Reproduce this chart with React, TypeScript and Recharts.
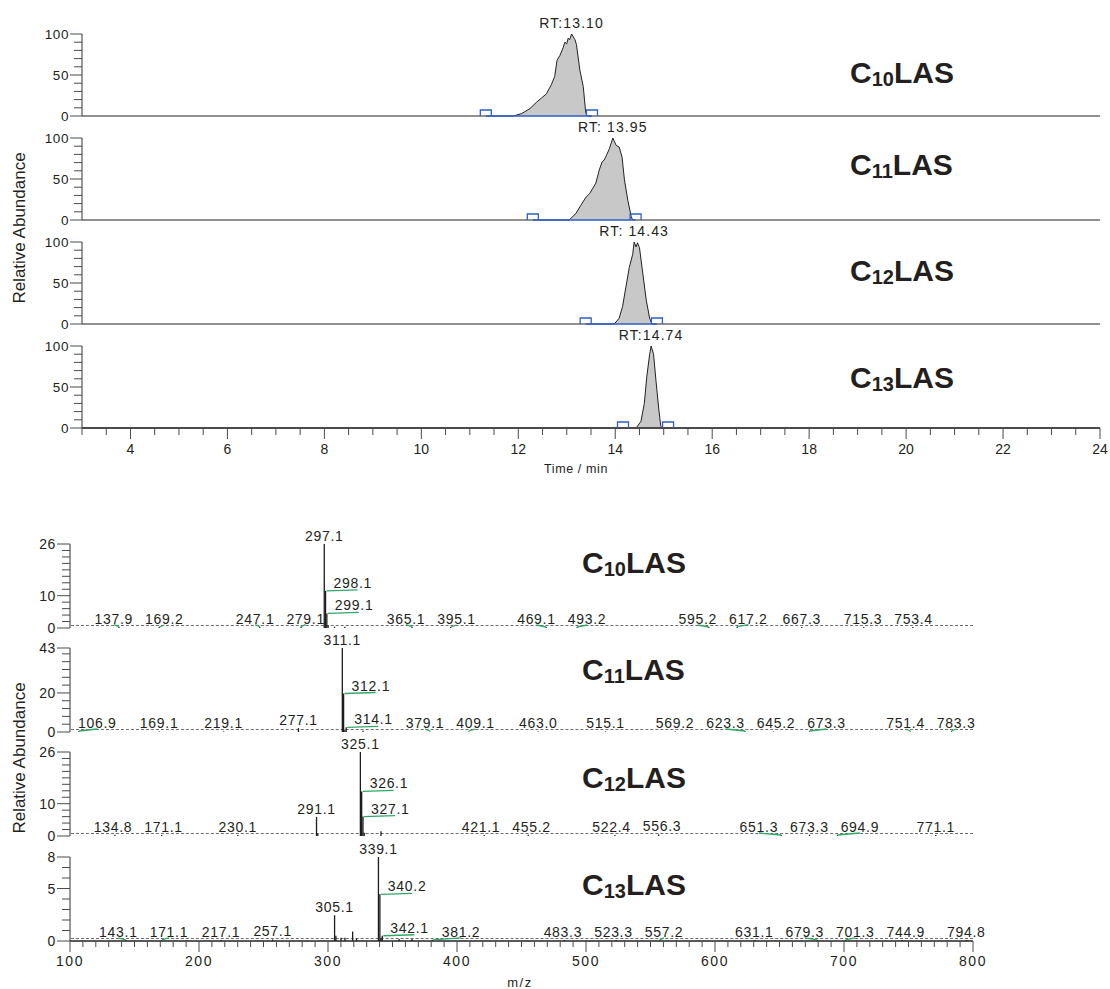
import React from 'react'
import { ComposedChart, Area, Line, Scatter, XAxis, YAxis } from 'recharts'

const FONT = '"Liberation Sans", Arial, Helvetica, sans-serif'
const INK = '#231f20'
const AXIS = '#4a4a4a'
const GREEN = '#2fa866'
const BLUE = '#2d5fc4'

// ---- chromatograms (time in min, relative abundance in %) ----
const c10Time = [3, 11.9, 12.07, 12.24, 12.38, 12.48, 12.58, 12.68, 12.75, 12.8, 12.86, 12.93, 12.96, 13.0, 13.03, 13.06, 13.1, 13.17, 13.2, 13.27, 13.34, 13.39, 13.42, 24]
const c10Abund = [0, 0, 3, 9, 17, 22, 27, 38, 48, 68, 74, 84, 90, 88, 95, 93, 100, 93, 87, 56, 36, 5, 0, 0]
const c10Edges = [11.33, 13.52]

const c11Time = [3, 13.05, 13.19, 13.29, 13.4, 13.47, 13.53, 13.6, 13.67, 13.73, 13.77, 13.82, 13.88, 13.95, 14.02, 14.08, 14.14, 14.19, 14.26, 14.33, 14.36, 24]
const c11Abund = [0, 0, 8, 18, 28, 32, 38, 45, 61, 71, 73, 79, 87, 100, 91, 89, 77, 49, 24, 4, 0, 0]
const c11Edges = [12.3, 14.42]

const c12Time = [3, 13.98, 14.08, 14.15, 14.22, 14.29, 14.36, 14.39, 14.43, 14.46, 14.5, 14.57, 14.64, 14.71, 14.76, 24]
const c12Abund = [0, 0, 7, 21, 45, 69, 85, 100, 94, 99, 93, 61, 29, 7, 0, 0]
const c12Edges = [13.39, 14.86]

const c13Time = [3, 14.43, 14.53, 14.6, 14.65, 14.71, 14.74, 14.79, 14.84, 14.9, 14.94, 14.98, 24]
const c13Abund = [0, 0, 8, 30, 62, 90, 100, 90, 58, 22, 2, 0, 0]
const c13Edges = [14.16, 15.09]

const rtLabels = ['RT:13.10', 'RT: 13.95', 'RT: 14.43', 'RT:14.74']
const chainLabels = ['10', '11', '12', '13']

const timeLabelTicks = [4, 6, 8, 10, 12, 14, 16, 18, 20, 22, 24]
const timeTicks = Array.from({ length: 43 }, (_, i) => 3 + i * 0.5)
const abundTicks = [0, 10, 20, 30, 40, 50, 60, 70, 80, 90, 100]
const abundLabelTicks = [0, 50, 100]

// ---- mass spectra (m/z, intensity) ----
const s10Mz = [137.9, 169.2, 247.1, 279.1, 297.1, 298.1, 299.1, 365.1, 395.1, 469.1, 493.2, 595.2, 617.2, 667.3, 715.3, 753.4]
const s10Int = [0.4, 0.3, 0.4, 0.4, 26, 11.5, 4.5, 0.4, 0.3, 0.3, 0.3, 0.3, 0.4, 0.3, 0.3, 0.3]
const s10MinorMz = [300.1, 305.1, 313.1]
const s10MinorInt = [0.8, 0.4, 0.4]

const s11Mz = [106.9, 169.1, 219.1, 277.1, 311.1, 312.1, 314.1, 379.1, 409.1, 463.0, 515.1, 569.2, 623.3, 645.2, 673.3, 751.4, 783.3]
const s11Int = [0.4, 0.3, 0.3, 2, 43, 19.7, 2.4, 0.3, 0.3, 0.3, 0.3, 0.3, 0.4, 0.3, 0.3, 0.3, 0.3]
const s11MinorMz = [313.1, 327.1]
const s11MinorInt = [1.2, 0.6]

const s12Mz = [134.8, 171.1, 230.1, 291.1, 325.1, 326.1, 327.1, 421.1, 455.2, 522.4, 556.3, 651.3, 673.3, 694.9, 771.1]
const s12Int = [0.4, 0.3, 0.3, 5.9, 26, 13.8, 6.0, 0.3, 0.4, 0.3, 0.5, 0.3, 0.4, 0.3, 0.3]
const s12MinorMz = [292.1, 328.1, 341.1]
const s12MinorInt = [0.8, 1.0, 1.5]

const s13Mz = [143.1, 171.1, 217.1, 257.1, 305.1, 339.1, 340.2, 342.1, 381.2, 483.3, 523.3, 557.2, 631.1, 679.3, 701.3, 744.9, 794.8]
const s13Int = [0.1, 0.1, 0.1, 0.15, 2.45, 8, 4.45, 0.5, 0.1, 0.1, 0.1, 0.1, 0.1, 0.1, 0.1, 0.1, 0.1]
const s13MinorMz = [306.1, 310.1, 313.1, 319.1, 322.1, 341.1, 355.1, 365.1]
const s13MinorInt = [0.5, 0.3, 0.3, 0.9, 0.25, 0.3, 0.2, 0.2]

const s10Ticks = [0, 2, 4, 6, 8, 10, 12, 14, 16, 18, 20, 22, 24, 26]
const s10TickLabels = [0, 10, 26]
const s11Ticks = [0, 4, 8, 12, 16, 20, 24, 28, 32, 36, 40, 43]
const s11TickLabels = [0, 20, 43]
const s12Ticks = [0, 2, 4, 6, 8, 10, 12, 14, 16, 18, 20, 22, 24, 26]
const s12TickLabels = [0, 10, 26]
const s13Ticks = [0, 1, 2, 3, 4, 5, 6, 7, 8]
const s13TickLabels = [0, 5, 8]

const mzLabelTicks = [100, 200, 300, 400, 500, 600, 700, 800]
const mzTicks = Array.from({ length: 71 }, (_, i) => 100 + i * 10)

const CHROM_H = 82
const SPEC_H = 84
const TOP_PAD = 20
const BOT_PAD = 10
const SPEC_LEFT = 70
const SPEC_RIGHT = 973
const LABEL_FS = 14
const LABEL_LS = 0.7

const makeYTick = (labels: number[], major: number, minor: number, fs: number) => (props: any) => {
  const { x, y, payload } = props
  const isMajor = labels.includes(payload.value)
  return (
    <g>
      <line x1={x - (isMajor ? major : minor)} x2={x} y1={y} y2={y} stroke={AXIS} strokeWidth={1} />
      {isMajor && (
        <text x={x - major - 1} y={y + 5} textAnchor="end" fontSize={fs} letterSpacing={0.6} fill={INK} fontFamily={FONT}>
          {payload.value}
        </text>
      )}
    </g>
  )
}

const makeXTick = (labels: number[], major: number, minor: number, fs: number, gap: number, ls: number) => (props: any) => {
  const { x, y, payload } = props
  const isMajor = labels.includes(payload.value)
  return (
    <g>
      <line x1={x} x2={x} y1={y} y2={y + (isMajor ? major : minor)} stroke={AXIS} strokeWidth={1} />
      {isMajor && (
        <text x={x} y={y + gap} textAnchor="middle" fontSize={fs} letterSpacing={ls} fill={INK} fontFamily={FONT}>
          {payload.value}
        </text>
      )}
    </g>
  )
}

const bracketShape = (props: any) => {
  const { cx, cy } = props
  return <path d={`M${cx - 5.5},${cy} L${cx - 5.5},${cy - 6} L${cx + 5.5},${cy - 6} L${cx + 5.5},${cy}`} fill="none" stroke={BLUE} strokeWidth={1.3} />
}

function Chromatogram(props: { time: number[]; abund: number[]; edges: number[]; rt: string; top: number; showAxis?: boolean }) {
  const { time, abund, edges, rt, top, showAxis } = props
  const rows = time.map((t, i) => ({ t, v: abund[i] }))
  const edgeRows = edges.map((t) => ({ t, v: 0 }))
  const apex = rows.reduce((a, b) => (b.v > a.v ? b : a))
  const axisH = showAxis ? 40 : 0
  const bottom = showAxis ? 0 : BOT_PAD
  const rtShape = (p: any) => (
    <text x={p.cx} y={p.cy - 6} textAnchor="middle" fontSize={14} letterSpacing={1.1} fill={INK} fontFamily={FONT}>
      {rt}
    </text>
  )
  return (
    <div style={{ position: 'absolute', left: 0, top: top - TOP_PAD }}>
      <ComposedChart width={1110} height={TOP_PAD + CHROM_H + axisH + bottom} data={rows} margin={{ top: TOP_PAD, right: 10, bottom, left: 0 }}>
        <XAxis
          dataKey="t"
          type="number"
          domain={[3, 24]}
          ticks={timeTicks}
          interval={0}
          height={axisH}
          tickSize={0}
          tickMargin={0}
          tickLine={false}
          tick={showAxis ? makeXTick(timeLabelTicks, 11, 7, 14, 26, 0) : false}
          axisLine={{ stroke: '#4a4a4a', strokeWidth: 2 }}
        />
        <YAxis
          dataKey="v"
          type="number"
          domain={[0, 100]}
          ticks={abundTicks}
          interval={0}
          width={82}
          tickSize={0}
          tickMargin={0}
          tickLine={false}
          tick={makeYTick(abundLabelTicks, 12, 8, 13.5)}
          axisLine={{ stroke: '#333', strokeWidth: 1 }}
        />
        <Area dataKey="v" type="linear" stroke="#222" strokeWidth={1} fill="#c8c8c8" fillOpacity={1} isAnimationActive={false} />
        <Line data={edgeRows} dataKey="v" stroke={BLUE} strokeWidth={1.5} dot={false} isAnimationActive={false} />
        <Scatter data={edgeRows} dataKey="v" shape={bracketShape} isAnimationActive={false} />
        <Scatter data={[apex]} dataKey="v" shape={rtShape} isAnimationActive={false} />
      </ComposedChart>
    </div>
  )
}

// approximate rendered width of a peak label
const labelWidth = (s: string) => {
  let w = 0
  for (const ch of s) w += (ch === '.' ? 0.278 : 0.556) * LABEL_FS
  return w + s.length * LABEL_LS
}

function Spectrum(props: {
  mz: number[]
  int: number[]
  minorMz: number[]
  minorInt: number[]
  yMax: number
  yTicks: number[]
  yLabels: number[]
  top: number
  showAxis?: boolean
}) {
  const { mz, int, minorMz, minorInt, yMax, yTicks, yLabels, top, showAxis } = props
  const px = (m: number) => SPEC_LEFT + ((m - 100) / 700) * (SPEC_RIGHT - SPEC_LEFT)
  const labelled = mz.map((m, i) => {
    const side = mz.some((o, j) => int[j] > int[i] && m - o > 0 && m - o <= 4)
    const label = m.toFixed(1)
    return { mz: m, int: int[i], label, side, lx: px(m), w: labelWidth(label) }
  })

  // labels sitting on the baseline row are pushed apart so they do not collide
  const row = labelled
    .filter((l) => (l.int / yMax) * SPEC_H < 14)
    .map((l) => ({ ref: l, left: l.side ? px(l.mz) + 9 : px(l.mz) - l.w / 2, fixed: l.side }))
    .sort((a, b) => a.left - b.left)
  const GAP = 12
  for (let it = 0; it < 80; it++) {
    for (let i = 1; i < row.length; i++) {
      const a = row[i - 1]
      const b = row[i]
      const ov = a.left + a.ref.w + GAP - b.left
      if (ov > 0) {
        if (a.fixed) b.left += ov
        else if (b.fixed) a.left -= ov
        else {
          a.left -= ov / 2
          b.left += ov / 2
        }
      }
    }
    if (row.length) {
      const f = row[0]
      if (!f.fixed && f.left < 78) f.left = 78
      const l = row[row.length - 1]
      if (!l.fixed && l.left + l.ref.w > 992) l.left = 992 - l.ref.w
    }
  }
  row.forEach((r) => {
    if (!r.fixed) r.ref.lx = r.left + r.ref.w / 2
  })

  const rows = [...labelled, ...minorMz.map((m, i) => ({ mz: m, int: minorInt[i], label: '', side: false, lx: px(m), w: 0 }))]
  const baseY = TOP_PAD + SPEC_H
  const axisH = showAxis ? 40 : 0
  const bottom = showAxis ? 0 : BOT_PAD
  const stick = (p: any) => {
    const { cx, cy, payload } = p
    const tip = Math.min(cy, baseY - 1)
    const shifted = Math.abs(payload.lx - px(payload.mz)) > 4
    const lx = cx + (payload.lx - px(payload.mz))
    return (
      <g>
        <line x1={cx} x2={cx} y1={cy} y2={baseY} stroke="#1c1c1c" strokeWidth={1.3} />
        {payload.label && payload.side && (
          <g>
            <line x1={cx + 1} y1={cy} x2={cx + 32} y2={cy - 1} stroke={GREEN} strokeWidth={1.3} />
            <text x={cx + 8} y={cy - 3} fontSize={LABEL_FS} letterSpacing={LABEL_LS} fill={INK} fontFamily={FONT}>
              {payload.label}
            </text>
          </g>
        )}
        {payload.label && !payload.side && shifted && (
          <line x1={lx} y1={tip - 2} x2={cx} y2={tip} stroke={GREEN} strokeWidth={1.3} />
        )}
        {payload.label && !payload.side && (
          <text x={lx} y={tip - 3} textAnchor="middle" fontSize={LABEL_FS} letterSpacing={LABEL_LS} fill={INK} fontFamily={FONT}>
            {payload.label}
          </text>
        )}
      </g>
    )
  }
  return (
    <div style={{ position: 'absolute', left: 0, top: top - TOP_PAD }}>
      <div style={{ position: 'absolute', left: SPEC_LEFT + 1, top: baseY - 3, width: SPEC_RIGHT - SPEC_LEFT - 1, borderTop: '1px dashed #6e6e6e' }} />
      <ComposedChart
        width={1110}
        height={TOP_PAD + SPEC_H + axisH + bottom}
        data={rows}
        margin={{ top: TOP_PAD, right: 1110 - SPEC_RIGHT, bottom, left: 0 }}
      >
        <XAxis
          dataKey="mz"
          type="number"
          domain={[100, 800]}
          ticks={mzTicks}
          interval={0}
          height={axisH}
          tickSize={0}
          tickMargin={0}
          tickLine={false}
          tick={showAxis ? makeXTick(mzLabelTicks, 11, 6, 14, 25, 1.5) : false}
          axisLine={{ stroke: '#5a5a5a', strokeWidth: 2 }}
        />
        <YAxis
          dataKey="int"
          type="number"
          domain={[0, yMax]}
          ticks={yTicks}
          interval={0}
          width={SPEC_LEFT}
          tickSize={0}
          tickMargin={0}
          tickLine={false}
          tick={makeYTick(yLabels, 13, 8, 14)}
          axisLine={{ stroke: '#333', strokeWidth: 1 }}
        />
        <Scatter data={rows} dataKey="int" shape={stick} isAnimationActive={false} />
      </ComposedChart>
    </div>
  )
}

const Compound = ({ x, y, n }: { x: number; y: number; n: string }) => (
  <text x={x} y={y} fontSize={30} fontWeight="bold" fill={INK} fontFamily={FONT}>
    C
    <tspan fontSize={20} dy={3}>{n}</tspan>
    <tspan dy={-3}>LAS</tspan>
  </text>
)

const App = () => {
  return (
    <div style={{ position: 'absolute', left: 0, top: 0, width: 1110, height: 989, background: '#fff', fontFamily: FONT }}>
      <Chromatogram time={c10Time} abund={c10Abund} edges={c10Edges} rt={rtLabels[0]} top={34} />
      <Chromatogram time={c11Time} abund={c11Abund} edges={c11Edges} rt={rtLabels[1]} top={138} />
      <Chromatogram time={c12Time} abund={c12Abund} edges={c12Edges} rt={rtLabels[2]} top={242} />
      <Chromatogram time={c13Time} abund={c13Abund} edges={c13Edges} rt={rtLabels[3]} top={346} showAxis />

      <Spectrum mz={s10Mz} int={s10Int} minorMz={s10MinorMz} minorInt={s10MinorInt} yMax={26} yTicks={s10Ticks} yLabels={s10TickLabels} top={544} />
      <Spectrum mz={s11Mz} int={s11Int} minorMz={s11MinorMz} minorInt={s11MinorInt} yMax={43} yTicks={s11Ticks} yLabels={s11TickLabels} top={648} />
      <Spectrum mz={s12Mz} int={s12Int} minorMz={s12MinorMz} minorInt={s12MinorInt} yMax={26} yTicks={s12Ticks} yLabels={s12TickLabels} top={752} />
      <Spectrum mz={s13Mz} int={s13Int} minorMz={s13MinorMz} minorInt={s13MinorInt} yMax={8} yTicks={s13Ticks} yLabels={s13TickLabels} top={857} showAxis />

      <svg width={1110} height={989} style={{ position: 'absolute', left: 0, top: 0, pointerEvents: 'none' }}>
        <text x={25} y={228} transform="rotate(-90 25 228)" textAnchor="middle" fontSize={17} fill={INK} fontFamily={FONT}>
          Relative Abundance
        </text>
        <text x={25} y={758} transform="rotate(-90 25 758)" textAnchor="middle" fontSize={17} fill={INK} fontFamily={FONT}>
          Relative Abundance
        </text>
        <text x={576} y={473} textAnchor="middle" fontSize={12.5} letterSpacing={0.6} fill={INK} fontFamily={FONT}>
          Time / min
        </text>
        <text x={520} y={987} textAnchor="middle" fontSize={13} letterSpacing={1.5} fill={INK} fontFamily={FONT}>
          m/z
        </text>
        <Compound x={850} y={83} n={chainLabels[0]} />
        <Compound x={850} y={175} n={chainLabels[1]} />
        <Compound x={850} y={281} n={chainLabels[2]} />
        <Compound x={850} y={388} n={chainLabels[3]} />
        <Compound x={582} y={573} n={chainLabels[0]} />
        <Compound x={582} y={680} n={chainLabels[1]} />
        <Compound x={582} y={788} n={chainLabels[2]} />
        <Compound x={582} y={895} n={chainLabels[3]} />
      </svg>
    </div>
  )
}

export default App
